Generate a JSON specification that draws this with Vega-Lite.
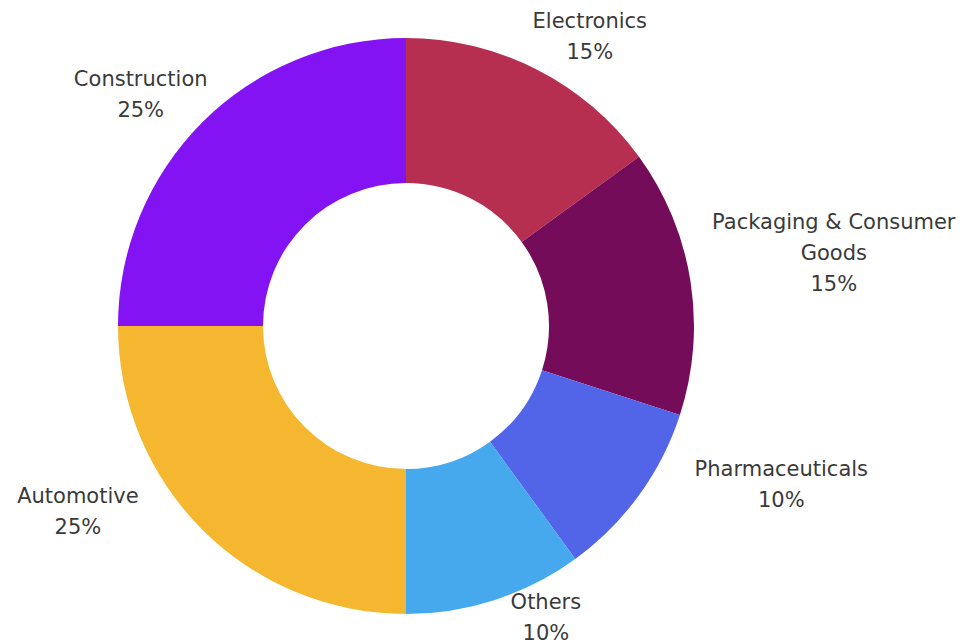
{
  "$schema": "https://vega.github.io/schema/vega-lite/v6.json",
  "width": 812,
  "height": 630,
  "autosize": {"type": "none"},
  "padding": {"left": 0, "top": 11, "right": 164, "bottom": 2},
  "background": "white",
  "config": {
    "view": {"stroke": null},
    "text": {"font": "DejaVu Sans", "fontSize": 21, "lineHeight": 31, "align": "center", "baseline": "middle", "lineBreak": "\n", "color": "#3a3a3a"}
  },
  "data": {
    "values": [
      {"sector": "Electronics", "share": 15},
      {"sector": "Packaging & Consumer Goods", "share": 15},
      {"sector": "Pharmaceuticals", "share": 10},
      {"sector": "Others", "share": 10},
      {"sector": "Automotive", "share": 25},
      {"sector": "Construction", "share": 25}
    ]
  },
  "transform": [
    {"window": [{"op": "row_number", "as": "slot"}]},
    {"stack": "share", "groupby": [], "sort": [{"field": "slot", "order": "ascending"}], "as": ["start", "end"]},
    {"calculate": "(datum.start + datum.end) / 2", "as": "mid"},
    {"calculate": "replace(datum.sector, ' Goods', '\\nGoods') + '\\n' + datum.share + '%'", "as": "label"}
  ],
  "layer": [
    {
      "mark": {"type": "arc", "outerRadius": 288, "innerRadius": 143},
      "encoding": {
        "theta": {"field": "start", "type": "quantitative", "scale": {"domain": [0, 100]}},
        "theta2": {"field": "end"},
        "color": {
          "field": "sector",
          "type": "nominal",
          "legend": null,
          "scale": {
            "domain": ["Electronics", "Packaging & Consumer Goods", "Pharmaceuticals", "Others", "Automotive", "Construction"],
            "range": ["#B72F50", "#750C5A", "#5264E8", "#46A9EE", "#F4B72F", "#8413F4"]
          }
        }
      }
    },
    {
      "transform": [{"filter": "datum.sector === 'Electronics'"}],
      "mark": {"type": "text", "radius": 355, "thetaOffset": 0.073},
      "encoding": {"theta": {"field": "mid", "type": "quantitative"}, "text": {"field": "label"}}
    },
    {
      "transform": [{"filter": "datum.sector === 'Packaging & Consumer Goods'"}],
      "mark": {"type": "text", "radius": 440, "thetaOffset": -0.079},
      "encoding": {"theta": {"field": "mid", "type": "quantitative"}, "text": {"field": "label"}}
    },
    {
      "transform": [{"filter": "datum.sector === 'Pharmaceuticals'"}],
      "mark": {"type": "text", "radius": 402, "thetaOffset": -0.262},
      "encoding": {"theta": {"field": "mid", "type": "quantitative"}, "text": {"field": "label"}}
    },
    {
      "transform": [{"filter": "datum.sector === 'Others'"}],
      "mark": {"type": "text", "radius": 310, "thetaOffset": -0.154},
      "encoding": {"theta": {"field": "mid", "type": "quantitative"}, "text": {"field": "label"}}
    },
    {
      "transform": [{"filter": "datum.sector === 'Automotive'"}],
      "mark": {"type": "text", "radius": 370, "thetaOffset": 0.305},
      "encoding": {"theta": {"field": "mid", "type": "quantitative"}, "text": {"field": "label"}}
    },
    {
      "transform": [{"filter": "datum.sector === 'Construction'"}],
      "mark": {"type": "text", "radius": 362, "thetaOffset": -0.037},
      "encoding": {"theta": {"field": "mid", "type": "quantitative"}, "text": {"field": "label"}}
    }
  ]
}
